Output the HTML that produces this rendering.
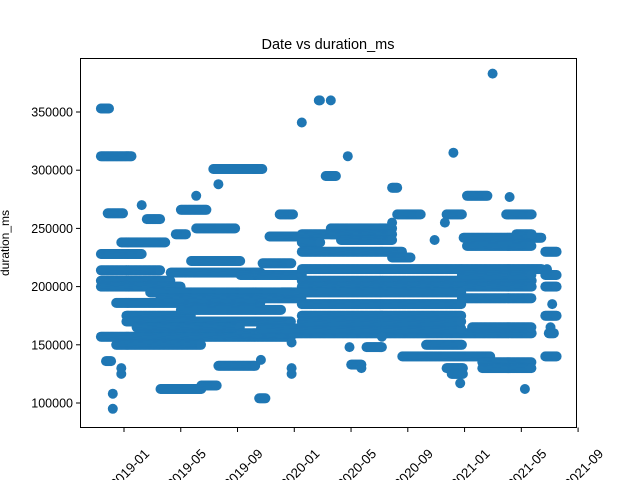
<!DOCTYPE html>
<html><head><meta charset="utf-8"><style>
body{margin:0;background:#fff;}
svg text{font-family:"Liberation Sans","DejaVu Sans",sans-serif;}
</style></head><body>
<svg id="chart" width="640" height="480" viewBox="0 0 640 480" xmlns="http://www.w3.org/2000/svg">
<rect width="640" height="480" fill="#fff"/>
<text x="328" y="49" font-size="14.5" text-anchor="middle">Date vs duration_ms</text>
<text transform="translate(9,243) rotate(-90)" font-size="12" text-anchor="middle">duration_ms</text>
<g id="points"></g>
<rect x="80.5" y="58.5" width="496" height="369" fill="none" stroke="#000" stroke-width="1"/>
<g id="axes"></g>
</svg>
<script>
// segments: start year, end year, duration value
const segStart=[2018.87,2018.87,2018.91,2018.87,2018.87,2018.87,2018.87,2018.87,2018.96,2018.90,2018.94,2018.94,2018.99,2018.99,2018.99,2019.14,2019.11,2018.96,2019.02,2019.02,2019.08,2019.22,2019.46,2019.31,2019.34,2019.43,2019.43,2019.56,2019.53,2019.40,2019.28,2019.16,2019.22,2019.34,2019.56,2019.80,2019.81,2019.69,2019.81,2019.69,2019.82,2019.86,2019.92,2019.99,2019.99,2019.99,2020.05,2020.15,2020.22,2020.19,2020.05,2020.05,2020.32,2020.22,2020.22,2020.28,2020.05,2020.05,2020.05,2020.05,2019.93,2020.05,2020.05,2020.05,2020.33,2020.34,2020.40,2020.43,2020.52,2020.58,2020.61,2020.58,2020.58,2020.64,2020.78,2020.83,2020.90,2020.93,2020.98,2020.94,2020.90,2020.89,2021.02,2021.0,2021.02,2020.99,2020.99,2020.99,2021.05,2021.11,2021.11,2021.27,2021.25,2021.31,2021.17,2021.36,2021.48,2021.49,2021.48,2021.51,2021.48,2021.52,2021.48,2021.48,2021.50];
const segEnd=[2018.92,2019.05,2019.0,2019.11,2019.22,2019.28,2019.34,2019.99,2019.46,2018.93,2018.94,2018.94,2018.99,2018.99,2019.25,2019.22,2019.11,2019.81,2019.40,2019.99,2019.69,2019.46,2019.55,2019.37,2019.49,2019.66,2019.43,2019.56,2019.82,2019.69,2019.81,2019.99,2020.05,2019.93,2019.78,2019.84,2019.81,2021.40,2020.99,2020.05,2019.99,2020.05,2020.0,2019.99,2019.99,2019.99,2020.05,2020.16,2020.22,2020.25,2020.28,2020.16,2020.32,2020.58,2020.58,2020.58,2020.64,2020.99,2021.40,2021.40,2020.99,2020.99,2020.99,2020.99,2020.33,2020.40,2020.40,2020.52,2020.52,2020.61,2020.75,2020.58,2020.69,2021.16,2020.99,2020.83,2021.0,2021.0,2020.98,2020.94,2020.99,2020.89,2021.14,2021.46,2021.40,2021.46,2021.40,2021.40,2021.40,2021.40,2021.40,2021.27,2021.40,2021.40,2021.17,2021.36,2021.55,2021.49,2021.55,2021.51,2021.55,2021.52,2021.55,2021.55,2021.53];
const segValue=[353000,312000,263000,228000,214000,205000,200000,157000,150000,136000,95000,108000,125000,130000,238000,258000,270000,186000,175000,170000,165000,112000,115000,245000,266000,250000,278000,288000,301000,222000,212000,195000,190000,180000,132000,104000,137000,160000,164000,210000,220000,243000,262000,130000,125000,152000,341000,360000,360000,295000,245000,238000,312000,250000,245000,240000,230000,215000,205000,200000,195000,185000,175000,170000,148000,133000,130000,148000,157000,285000,262000,255000,225000,140000,150000,240000,130000,125000,117000,315000,262000,255000,278000,242000,235000,215000,210000,190000,165000,135000,130000,277000,262000,245000,383000,112000,230000,215000,175000,165000,140000,185000,210000,200000,160000];
const yTicks=[100000,150000,200000,250000,300000,350000];
const xTickLabels=["2019-01","2019-05","2019-09","2020-01","2020-05","2020-09","2021-01","2021-05","2021-09"];
const xTickMonths=[0,4,8,12,16,20,24,28,32];

const NS="http://www.w3.org/2000/svg";
const xScale=yr=>123+(yr-2019)*170.3;
const yScale=v=>403-(v-100000)*58.2/50000;
const pts=document.getElementById('points');
for(let i=0;i<segValue.length;i++){
  let s=segStart[i],e=Math.max(segEnd[i],s);
  for(let t=s;t<=e+1e-9;t+=0.006){
    const c=document.createElementNS(NS,'circle');
    
    
    c.setAttribute('cx',xScale(t).toFixed(1));
    c.setAttribute('cy',yScale(segValue[i]).toFixed(1));
    c.setAttribute('r','5');
    c.setAttribute('fill','#1f77b4');
    pts.appendChild(c);
  }
}
const ax=document.getElementById('axes');
yTicks.forEach(v=>{
  const y=yScale(v);
  const l=document.createElementNS(NS,'line');
  
  
  l.setAttribute('x1',76);l.setAttribute('x2',80.5);l.setAttribute('y1',y);l.setAttribute('y2',y);l.setAttribute('stroke','#000');
  ax.appendChild(l);
  const t=document.createElementNS(NS,'text');
  
  
  t.setAttribute('x',73);t.setAttribute('y',y+4.5);t.setAttribute('font-size','12.5');t.setAttribute('text-anchor','end');
  t.textContent=v;
  ax.appendChild(t);
});
xTickMonths.forEach((m,i)=>{
  const x=124+m*14.19;
  const l=document.createElementNS(NS,'line');
  
  
  l.setAttribute('x1',x);l.setAttribute('x2',x);l.setAttribute('y1',427.5);l.setAttribute('y2',432);l.setAttribute('stroke','#000');
  ax.appendChild(l);
  const t=document.createElementNS(NS,'text');
  
  
  t.setAttribute('transform','translate('+(x+6)+',469) rotate(-45)');
  t.setAttribute('font-size','13.3');t.setAttribute('text-anchor','middle');t.setAttribute('dy','4');
  t.textContent=xTickLabels[i];
  ax.appendChild(t);
});
</script>
</body></html>
